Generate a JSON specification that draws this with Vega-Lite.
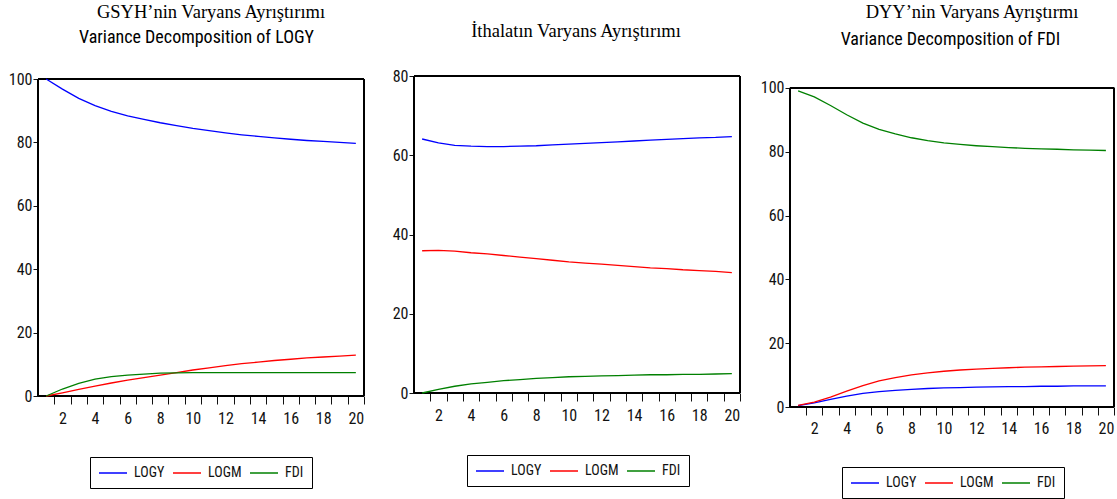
{
"$schema": "https://vega.github.io/schema/vega-lite/v6.json",
"autosize": {"type": "pad"},
"padding": {"left": 8, "top": 2, "right": 4, "bottom": 0},
"background": "white",
"spacing": 50,
"bounds": "flush",
"resolve": {"scale": {"color": "independent"}, "legend": {"color": "independent"}},
"datasets": {
"d": [
{"p":1,"k":1,"s":"LOGY","v":100},{"p":1,"k":2,"s":"LOGY","v":96.8},{"p":1,"k":3,"s":"LOGY","v":93.9},{"p":1,"k":4,"s":"LOGY","v":91.6},{"p":1,"k":5,"s":"LOGY","v":89.8},{"p":1,"k":6,"s":"LOGY","v":88.4},{"p":1,"k":7,"s":"LOGY","v":87.3},{"p":1,"k":8,"s":"LOGY","v":86.2},{"p":1,"k":9,"s":"LOGY","v":85.3},{"p":1,"k":10,"s":"LOGY","v":84.4},{"p":1,"k":11,"s":"LOGY","v":83.7},{"p":1,"k":12,"s":"LOGY","v":83.0},{"p":1,"k":13,"s":"LOGY","v":82.4},{"p":1,"k":14,"s":"LOGY","v":81.9},{"p":1,"k":15,"s":"LOGY","v":81.4},{"p":1,"k":16,"s":"LOGY","v":81.0},{"p":1,"k":17,"s":"LOGY","v":80.6},{"p":1,"k":18,"s":"LOGY","v":80.3},{"p":1,"k":19,"s":"LOGY","v":80.0},{"p":1,"k":20,"s":"LOGY","v":79.7},
{"p":1,"k":1,"s":"LOGM","v":0},{"p":1,"k":2,"s":"LOGM","v":1.0},{"p":1,"k":3,"s":"LOGM","v":2.1},{"p":1,"k":4,"s":"LOGM","v":3.1},{"p":1,"k":5,"s":"LOGM","v":4.1},{"p":1,"k":6,"s":"LOGM","v":5.0},{"p":1,"k":7,"s":"LOGM","v":5.8},{"p":1,"k":8,"s":"LOGM","v":6.6},{"p":1,"k":9,"s":"LOGM","v":7.4},{"p":1,"k":10,"s":"LOGM","v":8.2},{"p":1,"k":11,"s":"LOGM","v":8.9},{"p":1,"k":12,"s":"LOGM","v":9.6},{"p":1,"k":13,"s":"LOGM","v":10.2},{"p":1,"k":14,"s":"LOGM","v":10.7},{"p":1,"k":15,"s":"LOGM","v":11.2},{"p":1,"k":16,"s":"LOGM","v":11.6},{"p":1,"k":17,"s":"LOGM","v":12.0},{"p":1,"k":18,"s":"LOGM","v":12.3},{"p":1,"k":19,"s":"LOGM","v":12.6},{"p":1,"k":20,"s":"LOGM","v":12.9},
{"p":1,"k":1,"s":"FDI","v":0},{"p":1,"k":2,"s":"FDI","v":2.2},{"p":1,"k":3,"s":"FDI","v":4.0},{"p":1,"k":4,"s":"FDI","v":5.3},{"p":1,"k":5,"s":"FDI","v":6.1},{"p":1,"k":6,"s":"FDI","v":6.6},{"p":1,"k":7,"s":"FDI","v":6.9},{"p":1,"k":8,"s":"FDI","v":7.2},{"p":1,"k":9,"s":"FDI","v":7.3},{"p":1,"k":10,"s":"FDI","v":7.4},{"p":1,"k":11,"s":"FDI","v":7.4},{"p":1,"k":12,"s":"FDI","v":7.4},{"p":1,"k":13,"s":"FDI","v":7.4},{"p":1,"k":14,"s":"FDI","v":7.4},{"p":1,"k":15,"s":"FDI","v":7.4},{"p":1,"k":16,"s":"FDI","v":7.4},{"p":1,"k":17,"s":"FDI","v":7.4},{"p":1,"k":18,"s":"FDI","v":7.4},{"p":1,"k":19,"s":"FDI","v":7.4},{"p":1,"k":20,"s":"FDI","v":7.4},
{"p":2,"k":1,"s":"LOGY","v":64.1},{"p":2,"k":2,"s":"LOGY","v":63.1},{"p":2,"k":3,"s":"LOGY","v":62.5},{"p":2,"k":4,"s":"LOGY","v":62.3},{"p":2,"k":5,"s":"LOGY","v":62.2},{"p":2,"k":6,"s":"LOGY","v":62.2},{"p":2,"k":7,"s":"LOGY","v":62.3},{"p":2,"k":8,"s":"LOGY","v":62.4},{"p":2,"k":9,"s":"LOGY","v":62.6},{"p":2,"k":10,"s":"LOGY","v":62.8},{"p":2,"k":11,"s":"LOGY","v":63.0},{"p":2,"k":12,"s":"LOGY","v":63.2},{"p":2,"k":13,"s":"LOGY","v":63.4},{"p":2,"k":14,"s":"LOGY","v":63.6},{"p":2,"k":15,"s":"LOGY","v":63.8},{"p":2,"k":16,"s":"LOGY","v":64.0},{"p":2,"k":17,"s":"LOGY","v":64.2},{"p":2,"k":18,"s":"LOGY","v":64.4},{"p":2,"k":19,"s":"LOGY","v":64.5},{"p":2,"k":20,"s":"LOGY","v":64.7},
{"p":2,"k":1,"s":"LOGM","v":35.9},{"p":2,"k":2,"s":"LOGM","v":36.0},{"p":2,"k":3,"s":"LOGM","v":35.8},{"p":2,"k":4,"s":"LOGM","v":35.4},{"p":2,"k":5,"s":"LOGM","v":35.1},{"p":2,"k":6,"s":"LOGM","v":34.7},{"p":2,"k":7,"s":"LOGM","v":34.3},{"p":2,"k":8,"s":"LOGM","v":33.9},{"p":2,"k":9,"s":"LOGM","v":33.5},{"p":2,"k":10,"s":"LOGM","v":33.1},{"p":2,"k":11,"s":"LOGM","v":32.8},{"p":2,"k":12,"s":"LOGM","v":32.5},{"p":2,"k":13,"s":"LOGM","v":32.2},{"p":2,"k":14,"s":"LOGM","v":31.9},{"p":2,"k":15,"s":"LOGM","v":31.6},{"p":2,"k":16,"s":"LOGM","v":31.4},{"p":2,"k":17,"s":"LOGM","v":31.1},{"p":2,"k":18,"s":"LOGM","v":30.9},{"p":2,"k":19,"s":"LOGM","v":30.7},{"p":2,"k":20,"s":"LOGM","v":30.4},
{"p":2,"k":1,"s":"FDI","v":0},{"p":2,"k":2,"s":"FDI","v":0.9},{"p":2,"k":3,"s":"FDI","v":1.7},{"p":2,"k":4,"s":"FDI","v":2.3},{"p":2,"k":5,"s":"FDI","v":2.7},{"p":2,"k":6,"s":"FDI","v":3.1},{"p":2,"k":7,"s":"FDI","v":3.4},{"p":2,"k":8,"s":"FDI","v":3.7},{"p":2,"k":9,"s":"FDI","v":3.9},{"p":2,"k":10,"s":"FDI","v":4.1},{"p":2,"k":11,"s":"FDI","v":4.2},{"p":2,"k":12,"s":"FDI","v":4.3},{"p":2,"k":13,"s":"FDI","v":4.4},{"p":2,"k":14,"s":"FDI","v":4.5},{"p":2,"k":15,"s":"FDI","v":4.6},{"p":2,"k":16,"s":"FDI","v":4.6},{"p":2,"k":17,"s":"FDI","v":4.7},{"p":2,"k":18,"s":"FDI","v":4.7},{"p":2,"k":19,"s":"FDI","v":4.8},{"p":2,"k":20,"s":"FDI","v":4.9},
{"p":3,"k":1,"s":"LOGY","v":0.4},{"p":3,"k":2,"s":"LOGY","v":1.3},{"p":3,"k":3,"s":"LOGY","v":2.4},{"p":3,"k":4,"s":"LOGY","v":3.4},{"p":3,"k":5,"s":"LOGY","v":4.3},{"p":3,"k":6,"s":"LOGY","v":4.8},{"p":3,"k":7,"s":"LOGY","v":5.2},{"p":3,"k":8,"s":"LOGY","v":5.5},{"p":3,"k":9,"s":"LOGY","v":5.8},{"p":3,"k":10,"s":"LOGY","v":6.0},{"p":3,"k":11,"s":"LOGY","v":6.1},{"p":3,"k":12,"s":"LOGY","v":6.2},{"p":3,"k":13,"s":"LOGY","v":6.3},{"p":3,"k":14,"s":"LOGY","v":6.4},{"p":3,"k":15,"s":"LOGY","v":6.4},{"p":3,"k":16,"s":"LOGY","v":6.5},{"p":3,"k":17,"s":"LOGY","v":6.5},{"p":3,"k":18,"s":"LOGY","v":6.6},{"p":3,"k":19,"s":"LOGY","v":6.6},{"p":3,"k":20,"s":"LOGY","v":6.6},
{"p":3,"k":1,"s":"LOGM","v":0.5},{"p":3,"k":2,"s":"LOGM","v":1.5},{"p":3,"k":3,"s":"LOGM","v":3.1},{"p":3,"k":4,"s":"LOGM","v":5.0},{"p":3,"k":5,"s":"LOGM","v":6.7},{"p":3,"k":6,"s":"LOGM","v":8.2},{"p":3,"k":7,"s":"LOGM","v":9.2},{"p":3,"k":8,"s":"LOGM","v":10.1},{"p":3,"k":9,"s":"LOGM","v":10.7},{"p":3,"k":10,"s":"LOGM","v":11.2},{"p":3,"k":11,"s":"LOGM","v":11.6},{"p":3,"k":12,"s":"LOGM","v":11.9},{"p":3,"k":13,"s":"LOGM","v":12.1},{"p":3,"k":14,"s":"LOGM","v":12.3},{"p":3,"k":15,"s":"LOGM","v":12.5},{"p":3,"k":16,"s":"LOGM","v":12.6},{"p":3,"k":17,"s":"LOGM","v":12.7},{"p":3,"k":18,"s":"LOGM","v":12.8},{"p":3,"k":19,"s":"LOGM","v":12.9},{"p":3,"k":20,"s":"LOGM","v":13.0},
{"p":3,"k":1,"s":"FDI","v":99.1},{"p":3,"k":2,"s":"FDI","v":97.2},{"p":3,"k":3,"s":"FDI","v":94.5},{"p":3,"k":4,"s":"FDI","v":91.6},{"p":3,"k":5,"s":"FDI","v":89.0},{"p":3,"k":6,"s":"FDI","v":87.0},{"p":3,"k":7,"s":"FDI","v":85.6},{"p":3,"k":8,"s":"FDI","v":84.4},{"p":3,"k":9,"s":"FDI","v":83.5},{"p":3,"k":10,"s":"FDI","v":82.8},{"p":3,"k":11,"s":"FDI","v":82.3},{"p":3,"k":12,"s":"FDI","v":81.9},{"p":3,"k":13,"s":"FDI","v":81.6},{"p":3,"k":14,"s":"FDI","v":81.3},{"p":3,"k":15,"s":"FDI","v":81.1},{"p":3,"k":16,"s":"FDI","v":80.9},{"p":3,"k":17,"s":"FDI","v":80.8},{"p":3,"k":18,"s":"FDI","v":80.6},{"p":3,"k":19,"s":"FDI","v":80.5},{"p":3,"k":20,"s":"FDI","v":80.4}
]
},
"hconcat": [
{
"width": 326, "height": 320,
"data": {"name": "d"}, "transform": [{"filter": "datum.p == 1"}],
"title": {"text": "GSYH’nin Varyans Ayrıştırımı", "font": "Liberation Serif", "fontSize": 18.5, "fontWeight": "normal", "color": "black", "baseline": "alphabetic", "frame": "group", "offset": -8, "dx": 10, "anchor": "middle"},
"resolve": {"axis": {"x": "independent"}},
"layer": [
{"mark": {"type": "rect", "fill": null, "stroke": "black", "strokeWidth": 1},
 "encoding": {
  "x": {"datum": 0.5, "type": "quantitative", "scale": {"domain": [0.5, 20.5], "nice": false, "zero": false},
        "axis": {"orient": "top", "title": "Variance Decomposition of LOGY", "titleFont": "Roboto Condensed, Roboto", "titleFontSize": 18, "titleFontWeight": "normal", "titleColor": "black", "titleX": 158, "titleY": -34, "titleAlign": "center", "titleBaseline": "alphabetic", "labels": false, "ticks": false, "domain": false, "grid": false}},
  "x2": {"datum": 20.5},
  "y": {"datum": 0, "type": "quantitative"},
  "y2": {"datum": 100}
 }},
{"mark": {"type": "line", "strokeWidth": 1.3},
 "encoding": {
  "x": {"field": "k", "type": "quantitative", "scale": {"domain": [0.5, 20.5], "nice": false, "zero": false},
        "axis": {"orient": "bottom", "title": null, "values": [0,1,2,3,4,5,6,7,8,9,10,11,12,13,14,15,16,17,18,19,20], "tickOffset": 8.15, "labelOffset": -8.15, "labelExpr": "datum.value % 2 == 0 && datum.value > 0 ? datum.label : ''", "tickSize": 8, "labelPadding": 6, "labelOverlap": false, "labelFlush": false, "domain": false}},
  "y": {"field": "v", "type": "quantitative", "scale": {"domain": [0, 100.95], "nice": false},
        "axis": {"title": null, "values": [0,20,40,60,80,100], "tickSize": 5, "labelPadding": 1, "domain": false}},
  "color": {"field": "s", "type": "nominal", "scale": {"domain": ["LOGY","LOGM","FDI"], "range": ["#0000ff","#ff0000","#008000"]},
        "legend": {"orient": "none", "legendX": 52, "legendY": 381, "direction": "horizontal", "title": null, "symbolType": "M-1,0H3", "symbolSize": 196, "symbolStrokeWidth": 1.5, "labelOffset": 20, "columnPadding": 5, "padding": 8, "strokeColor": "black", "fillColor": "white"}}
 }}
]
},
{
"width": 326, "height": 317,
"data": {"name": "d"}, "transform": [{"filter": "datum.p == 2"}],
"title": {"text": "İthalatın Varyans Ayrıştırımı", "font": "Liberation Serif", "fontSize": 18.5, "fontWeight": "normal", "color": "black", "baseline": "alphabetic", "frame": "group", "offset": 13, "dx": -1, "anchor": "middle"},
"resolve": {"axis": {"x": "independent"}},
"layer": [
{"mark": {"type": "rect", "fill": null, "stroke": "black", "strokeWidth": 1},
 "encoding": {
  "x": {"datum": 0.5, "type": "quantitative", "scale": {"domain": [0.5, 20.5], "nice": false, "zero": false},
        "axis": {"orient": "top", "title": null, "labels": false, "ticks": false, "domain": false, "grid": false}},
  "x2": {"datum": 20.5},
  "y": {"datum": 0, "type": "quantitative"},
  "y2": {"datum": 80}
 }},
{"mark": {"type": "line", "strokeWidth": 1.3},
 "encoding": {
  "x": {"field": "k", "type": "quantitative", "scale": {"domain": [0.5, 20.5], "nice": false, "zero": false},
        "axis": {"orient": "bottom", "title": null, "values": [0,1,2,3,4,5,6,7,8,9,10,11,12,13,14,15,16,17,18,19,20], "tickOffset": 8.15, "labelOffset": -8.15, "labelExpr": "datum.value % 2 == 0 && datum.value > 0 ? datum.label : ''", "tickSize": 8, "labelPadding": 6, "labelOverlap": false, "labelFlush": false, "domain": false}},
  "y": {"field": "v", "type": "quantitative", "scale": {"domain": [0, 80], "nice": false},
        "axis": {"title": null, "values": [0,20,40,60,80], "tickSize": 5, "labelPadding": 1, "domain": false}},
  "color": {"field": "s", "type": "nominal", "scale": {"domain": ["LOGY","LOGM","FDI"], "range": ["#0000ff","#ff0000","#008000"]},
        "legend": {"orient": "none", "legendX": 53, "legendY": 379, "direction": "horizontal", "title": null, "symbolType": "M-1,0H3", "symbolSize": 196, "symbolStrokeWidth": 1.5, "labelOffset": 20, "columnPadding": 5, "padding": 8, "strokeColor": "black", "fillColor": "white"}}
 }}
]
},
{
"width": 324, "height": 331,
"data": {"name": "d"}, "transform": [{"filter": "datum.p == 3"}],
"title": {"text": "DYY’nin Varyans Ayrıştırmı", "font": "Liberation Serif", "fontSize": 18.5, "fontWeight": "normal", "color": "black", "baseline": "alphabetic", "frame": "group", "offset": -6, "dx": 20, "anchor": "middle"},
"resolve": {"axis": {"x": "independent"}},
"layer": [
{"mark": {"type": "rect", "fill": null, "stroke": "black", "strokeWidth": 1},
 "encoding": {
  "x": {"datum": 0.5, "type": "quantitative", "scale": {"domain": [0.5, 20.5], "nice": false, "zero": false},
        "axis": {"orient": "top", "title": "Variance Decomposition of FDI", "titleFont": "Roboto Condensed, Roboto", "titleFontSize": 18, "titleFontWeight": "normal", "titleColor": "black", "titleX": 160, "titleY": -32, "titleAlign": "center", "titleBaseline": "alphabetic", "labels": false, "ticks": false, "domain": false, "grid": false}},
  "x2": {"datum": 20.5},
  "y": {"datum": 0, "type": "quantitative"},
  "y2": {"datum": 100}
 }},
{"mark": {"type": "line", "strokeWidth": 1.3},
 "encoding": {
  "x": {"field": "k", "type": "quantitative", "scale": {"domain": [0.5, 20.5], "nice": false, "zero": false},
        "axis": {"orient": "bottom", "title": null, "values": [0,1,2,3,4,5,6,7,8,9,10,11,12,13,14,15,16,17,18,19,20], "tickOffset": 8.1, "labelOffset": -8.1, "labelExpr": "datum.value % 2 == 0 && datum.value > 0 ? datum.label : ''", "tickSize": 8, "labelPadding": 5, "labelOverlap": false, "labelFlush": false, "domain": false}},
  "y": {"field": "v", "type": "quantitative", "scale": {"domain": [0, 103.76], "nice": false},
        "axis": {"title": null, "values": [0,20,40,60,80,100], "tickSize": 5, "labelPadding": 1, "domain": false}},
  "color": {"field": "s", "type": "nominal", "scale": {"domain": ["LOGY","LOGM","FDI"], "range": ["#0000ff","#ff0000","#008000"]},
        "legend": {"orient": "none", "legendX": 52, "legendY": 391, "direction": "horizontal", "title": null, "symbolType": "M-1,0H3", "symbolSize": 196, "symbolStrokeWidth": 1.5, "labelOffset": 20, "columnPadding": 5, "padding": 8, "strokeColor": "black", "fillColor": "white"}}
 }}
]
}
],
"config": {
 "view": {"stroke": null},
 "axis": {"labelFont": "Roboto Condensed, Roboto", "labelFontSize": 16, "labelColor": "#111", "tickColor": "#111", "tickWidth": 1, "grid": false, "domain": false},
 "legend": {"labelFont": "Roboto Condensed, Roboto", "labelFontSize": 14, "labelColor": "#111"},
 "title": {"anchor": "middle"}
}
}
